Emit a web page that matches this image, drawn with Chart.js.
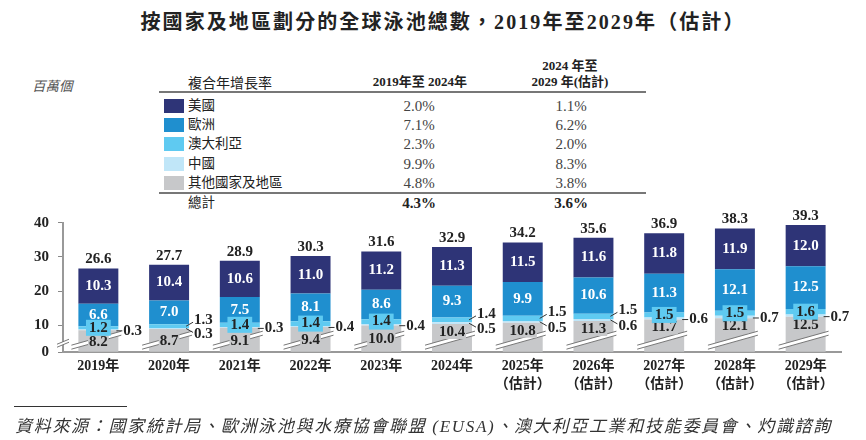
<!DOCTYPE html>
<html>
<head>
<meta charset="utf-8">
<script src="https://cdn.jsdelivr.net/npm/chart.js@4.4.1/dist/chart.umd.min.js"></script>
<style>
  html,body{margin:0;padding:0;background:#fff;}
  body{width:866px;height:440px;position:relative;overflow:hidden;color:#222;
       font-family:"Liberation Serif","Noto Sans CJK TC",serif;}
  .abs{position:absolute;white-space:nowrap;}
  #title{top:9px;left:10px;width:866px;text-align:center;font-weight:bold;font-size:20px;line-height:26px;letter-spacing:2.1px;}
  #unit{left:32px;top:75px;font-style:italic;font-size:13.5px;color:#555;}
  .hdr{font-size:14px;color:#222;}
  .hdrb{font-weight:bold;font-size:13px;text-align:center;color:#222;line-height:16px;}
  .rule{position:absolute;left:159px;width:487px;height:2px;background:#777;}
  .sw{position:absolute;left:164px;width:20px;height:14px;}
  .lab{position:absolute;left:188px;font-size:13.5px;line-height:18px;color:#222;}
  .val{position:absolute;width:80px;text-align:center;font-size:15px;line-height:18px;color:#444;}
  .tot{font-weight:bold;color:#222;}
  #chartbox{position:absolute;left:0;top:200px;width:866px;height:210px;}
  #fnline{position:absolute;left:14px;top:406px;width:113px;height:1px;background:#333;}
  #fn{left:15px;top:412px;font-style:italic;font-size:17px;color:#333;letter-spacing:1.7px;}
</style>
</head>
<body>
<div id="title" class="abs">按國家及地區劃分的全球泳池總數，2019年至2029年（估計）</div>
<div id="unit" class="abs">百萬個</div>

<div class="abs hdr" style="left:188px;top:72px;">複合年增長率</div>
<div class="abs hdrb" style="left:360px;top:74px;width:120px;">2019年至 2024年</div>
<div class="abs hdrb" style="left:510px;top:58px;width:120px;">2024 年至<br>2029 年(估計)</div>
<div class="rule" style="top:91px;"></div>
<div class="rule" style="top:192px;"></div>
<div id="tbl"></div>

<div id="chartbox"><canvas id="c" width="866" height="210"></canvas></div>

<div id="fnline"></div>
<div id="fn" class="abs">資料來源：國家統計局、歐洲泳池與水療協會聯盟 (EUSA)、澳大利亞工業和技能委員會、灼識諮詢</div>

<script>
// ---------- data ----------
const categories = [['2019年'],['2020年'],['2021年'],['2022年'],['2023年'],['2024年'],
  ['2025年','（估計）'],['2026年','（估計）'],['2027年','（估計）'],['2028年','（估計）'],['2029年','（估計）']];
const seriesNames = ['其他國家及地區','中國','澳大利亞','歐洲','美國'];
const other     = [8.2, 8.7, 9.1, 9.4, 10.0, 10.4, 10.8, 11.3, 11.7, 12.1, 12.5];
const china     = [0.3, 0.3, 0.3, 0.4, 0.4, 0.5, 0.5, 0.6, 0.6, 0.7, 0.7];
const australia = [1.2, 1.3, 1.4, 1.4, 1.4, 1.4, 1.5, 1.5, 1.5, 1.5, 1.6];
const europe    = [6.6, 7.0, 7.5, 8.1, 8.6, 9.3, 9.9, 10.6, 11.3, 12.1, 12.5];
const us        = [10.3, 10.4, 10.6, 11.0, 11.2, 11.3, 11.5, 11.6, 11.8, 11.9, 12.0];
const totals    = [26.6, 27.7, 28.9, 30.3, 31.6, 32.9, 34.2, 35.6, 36.9, 38.3, 39.3];
const yTicks    = [0, 10, 20, 30, 40];
// CAGR table
const cagrRegions = ['美國','歐洲','澳大利亞','中國','其他國家及地區'];
const cagr1924 = ['2.0%','7.1%','2.3%','9.9%','4.8%'];
const cagr2429 = ['1.1%','6.2%','2.0%','8.3%','3.8%'];
const cagrTotal = ['4.3%','3.6%'];

// ---------- styles ----------
const COLORS = {us:'#2e3477', europe:'#1f8fcf', aus:'#5fcaf1', china:'#c0e6f8', other:'#c7c8ca'};
const regionColors = [COLORS.us, COLORS.europe, COLORS.aus, COLORS.china, COLORS.other];
const ausOutside = [false,true,false,false,false,true,true,true,false,false,false];
const FONT = '"Liberation Serif","Noto Sans CJK TC",serif';

// table
(function(){
  const t = document.getElementById('tbl');
  const rowsY = [97, 116, 135, 155, 174];
  let h = '';
  cagrRegions.forEach((r,i)=>{
    h += `<div class="sw" style="top:${rowsY[i]+2}px;background:${regionColors[i]}"></div>`;
    h += `<div class="lab" style="top:${rowsY[i]}px">${r}</div>`;
    h += `<div class="val" style="left:379px;top:${rowsY[i]}px">${cagr1924[i]}</div>`;
    h += `<div class="val" style="left:531px;top:${rowsY[i]}px">${cagr2429[i]}</div>`;
  });
  h += `<div class="lab" style="top:194px">總計</div>`;
  h += `<div class="val tot" style="left:379px;top:194px">${cagrTotal[0]}</div>`;
  h += `<div class="val tot" style="left:531px;top:194px">${cagrTotal[1]}</div>`;
  t.innerHTML = h;
})();

// ---------- broken linear scale ----------
const BREAK = 10, R0 = 0.2077;
class BrokenLinear extends Chart.LinearScale {
  _frac(v){
    if (v <= BREAK) return (v - this.min) / (BREAK - this.min) * R0;
    return R0 + (v - BREAK) / (this.max - BREAK) * (1 - R0);
  }
  getPixelForValue(v){ return this.getPixelForDecimal(this._frac(v)); }
  getValueForPixel(p){
    const d = this.getDecimalForPixel(p);
    if (d <= R0) return this.min + d / R0 * (BREAK - this.min);
    return BREAK + (d - R0) / (1 - R0) * (this.max - BREAK);
  }
}
BrokenLinear.id = 'brokenLinear';
BrokenLinear.defaults = Chart.LinearScale.defaults;
Chart.register(BrokenLinear);

function drawBreak(ctx, x1, y1, x2, y2, gap){
  ctx.save();
  ctx.beginPath();
  ctx.moveTo(x1, y1); ctx.lineTo(x2, y2); ctx.lineTo(x2, y2-gap); ctx.lineTo(x1, y1-gap); ctx.closePath();
  ctx.fillStyle = '#fff'; ctx.fill();
  ctx.strokeStyle = '#777'; ctx.lineWidth = 1;
  ctx.beginPath(); ctx.moveTo(x1,y1); ctx.lineTo(x2,y2); ctx.stroke();
  ctx.beginPath(); ctx.moveTo(x1,y1-gap); ctx.lineTo(x2,y2-gap); ctx.stroke();
  ctx.restore();
}

const labelPlugin = {
  id: 'labelPlugin',
  afterDatasetsDraw(chart){
    const ctx = chart.ctx, ys = chart.scales.y;
    const m = [0,1,2,3,4].map(i => chart.getDatasetMeta(i).data);
    ctx.save();
    // y axis break mark
    const ax = chart.chartArea.left;
    const yb = ys.getPixelForValue(3);
    drawBreak(ctx, ax-6, yb+3, ax+6, yb-2, 3);

    ctx.textAlign = 'center'; ctx.textBaseline = 'middle';
    const fontB = 'bold 15px ' + FONT;
    for (let i = 0; i < categories.length; i++){
      const g = m[0][i], c = m[1][i], a = m[2][i], e = m[3][i], u = m[4][i];
      const x = g.x, w = g.width, L = x - w/2, R = x + w/2;
      // bar break
      const yc = ys.getPixelForValue(4.5);
      drawBreak(ctx, L-7, yc+9, R+3, yc-5, 4);
      // gray label
      ctx.font = fontB;
      const gy = other[i] <= BREAK ? (g.y + g.base)/2 + 1 : g.y + 8;
      const gt = other[i].toFixed(1);
      const gw = ctx.measureText(gt).width;
      ctx.fillStyle = COLORS.other; ctx.fillRect(x - gw/2 - 1, gy - 7, gw + 2, 14);
      ctx.fillStyle = '#222'; ctx.fillText(gt, x, gy);
      // US & Europe labels
      ctx.fillStyle = '#fff';
      ctx.fillText(us[i].toFixed(1), x, (u.y + u.base)/2);
      ctx.fillText(europe[i].toFixed(1), x, (e.y + e.base)/2);
      // totals
      ctx.fillStyle = '#222';
      ctx.fillText(totals[i].toFixed(1), x, u.y - 9);
      // Australia & China
      const ac = (a.y + a.base)/2, cc = (c.y + c.base)/2;
      ctx.strokeStyle = '#333'; ctx.lineWidth = 1;
      if (!ausOutside[i]){
        const at = australia[i].toFixed(1);
        const aw = ctx.measureText(at).width;
        ctx.fillStyle = COLORS.aus; ctx.fillRect(x - aw/2 - 3, ac - 8, aw + 6, 16);
        ctx.fillStyle = '#222'; ctx.fillText(at, x, ac);
        // china with horizontal leader
        const ly = cc + 1;
        ctx.beginPath(); ctx.moveTo(R - 2, ly); ctx.lineTo(R + 4, ly); ctx.stroke();
        ctx.textAlign = 'left';
        ctx.fillText(china[i].toFixed(1), R + 5, ly);
        ctx.textAlign = 'center';
      } else {
        const ay = ac - 6, cy = cc + 6;
        ctx.beginPath(); ctx.moveTo(R - 3, ac); ctx.lineTo(R + 4, ay + 2); ctx.stroke();
        ctx.beginPath(); ctx.moveTo(R - 3, cc); ctx.lineTo(R + 4, cy - 2); ctx.stroke();
        ctx.fillStyle = '#222'; ctx.textAlign = 'left';
        ctx.fillText(australia[i].toFixed(1), R + 5, ay);
        ctx.fillText(china[i].toFixed(1), R + 5, cy);
        ctx.textAlign = 'center';
      }
    }
    ctx.restore();
  }
};

const mk = (label, data, color) => ({label, data, backgroundColor: color, borderWidth: 0,
  stack: 's', barPercentage: 0.565, categoryPercentage: 1.0});

new Chart(document.getElementById('c'), {
  type: 'bar',
  data: {
    labels: categories,
    datasets: [
      mk(seriesNames[0], other, COLORS.other),
      mk(seriesNames[1], china, COLORS.china),
      mk(seriesNames[2], australia, COLORS.aus),
      mk(seriesNames[3], europe, COLORS.europe),
      mk(seriesNames[4], us, COLORS.us)
    ]
  },
  options: {
    responsive: false, animation: false, devicePixelRatio: 1,
    layout: {padding: {top: 22.7, right: 25, left: 0, bottom: 0}},
    plugins: {legend: {display: false}, tooltip: {enabled: false}},
    scales: {
      x: {
        stacked: true,
        afterFit(s){ s.height = 57.7; },
        grid: {display: false},
        border: {display: true, color: '#999', width: 2},
        ticks: {color: '#222', padding: -3, maxRotation: 0, autoSkip: false,
          font: {family: FONT, size: 14, weight: 'bold', lineHeight: 1.3}}
      },
      y: {
        type: 'brokenLinear', stacked: true, min: 0, max: 40,
        afterFit(s){ s.width = 63; },
        afterBuildTicks(s){ s.ticks = yTicks.map(v => ({value: v})); },
        grid: {drawOnChartArea: false, drawTicks: true, tickLength: 5, color: '#888'},
        border: {display: true, color: '#999', width: 2},
        ticks: {color: '#222', padding: 9, font: {family: FONT, size: 15, weight: 'bold'}}
      }
    }
  },
  plugins: [labelPlugin]
});
</script>
</body>
</html>
